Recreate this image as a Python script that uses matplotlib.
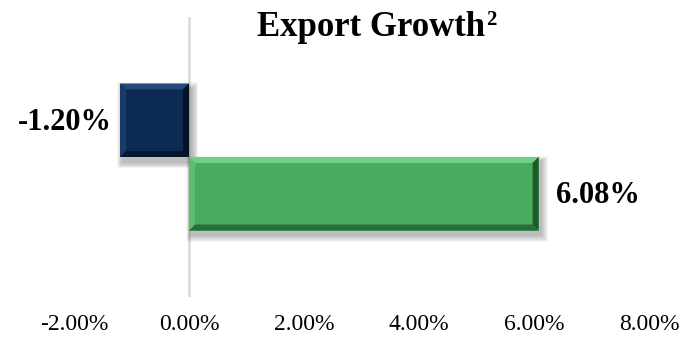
import matplotlib
matplotlib.use("Agg")
import matplotlib.pyplot as plt
from matplotlib.patches import Polygon, Rectangle

plt.rcParams['font.family'] = ['Liberation Serif', 'DejaVu Serif']

# data
series = ['Prior', 'Current']
growth = [-0.0120, 0.0608]
value_labels = ['-1.20%', '6.08%']
xticks = [-0.02, 0.0, 0.02, 0.04, 0.06, 0.08]
xtick_labels = ['-2.00%', '0.00%', '2.00%', '4.00%', '6.00%', '8.00%']

faces = ['#0C2B52', '#4AAB5E']
lights = ['#24497A', '#72CF83']
sides_light = ['#173A66', '#5BBE6E']
darks = ['#05172E', '#2C6B3B']
sides_dark = ['#041226', '#1E5A2B']

W, H, DPI = 691, 339, 100
fig = plt.figure(figsize=(W / DPI, H / DPI), dpi=DPI)
ax = fig.add_axes([74 / W, 1 - 297 / H, (649 - 74) / W, (297 - 17) / H])
ax.set_xlim(-0.02, 0.08)
ax.set_ylim(-1, 1)

bar_h = 0.525
ycent = [bar_h / 2, -bar_h / 2]

# pixel -> data sizes for the bevel and the shadow
px_x = 0.10 / (649 - 74)
px_y = 2.0 / (297 - 17)
bev = 6

ax.axvline(0, color='#D9D9D9', lw=1.8, zorder=1)

for v, yc, f, lt, sl, dk, sd in zip(growth, ycent, faces, lights, sides_light, darks, sides_dark):
    x0, x1 = min(0, v), max(0, v)
    y0, y1 = yc - bar_h / 2, yc + bar_h / 2
    dx, dy = bev * px_x, bev * px_y
    # soft drop shadow
    for i in range(7):
        g = (7 - i) * 0.9
        ax.add_patch(Rectangle((x0 + (3 - g) * px_x, y0 - (5 + g) * px_y),
                               (x1 - x0) + 2 * g * px_x, (y1 - y0) + 2 * g * px_y,
                               facecolor='#000000', alpha=0.04, lw=0, zorder=2))
    ax.add_patch(Rectangle((x0, y0), x1 - x0, y1 - y0, facecolor=f, lw=0, zorder=3))
    # bevel edges
    ax.add_patch(Polygon([(x0, y1), (x1, y1), (x1 - dx, y1 - dy), (x0 + dx, y1 - dy)],
                         closed=True, facecolor=lt, lw=0, zorder=4))
    ax.add_patch(Polygon([(x0, y0), (x1, y0), (x1 - dx, y0 + dy), (x0 + dx, y0 + dy)],
                         closed=True, facecolor=dk, lw=0, zorder=4))
    ax.add_patch(Polygon([(x0, y0), (x0, y1), (x0 + dx, y1 - dy), (x0 + dx, y0 + dy)],
                         closed=True, facecolor=sl, lw=0, zorder=4))
    ax.add_patch(Polygon([(x1, y0), (x1, y1), (x1 - dx, y1 - dy), (x1 - dx, y0 + dy)],
                         closed=True, facecolor=sd, lw=0, zorder=4))

# value labels
for v, yc, lab in zip(growth, ycent, value_labels):
    if v < 0:
        ax.text(v - 8 * px_x, yc - 2 * px_y, lab, ha='right', va='center',
                fontsize=22, fontweight='bold', zorder=5)
    else:
        ax.text(v + 17 * px_x, yc - 2 * px_y, lab, ha='left', va='center',
                fontsize=22, fontweight='bold', zorder=5)

ax.set_xticks(xticks)
ax.set_xticklabels(xtick_labels, fontsize=17)
ax.set_yticks([])
ax.tick_params(axis='x', length=0, pad=12)
for s in ax.spines.values():
    s.set_visible(False)

# title with a raised footnote mark
title = fig.text(257 / W, 1 - 36 / H, 'Export Growth', ha='left', va='baseline',
                 fontsize=25, fontweight='bold')
bb = title.get_window_extent(renderer=fig.canvas.get_renderer())
fig.text((bb.x1 + 1) / W, 1 - 25 / H, '2', ha='left', va='baseline',
         fontsize=15, fontweight='bold')

fig.savefig('out.png', dpi=DPI)
